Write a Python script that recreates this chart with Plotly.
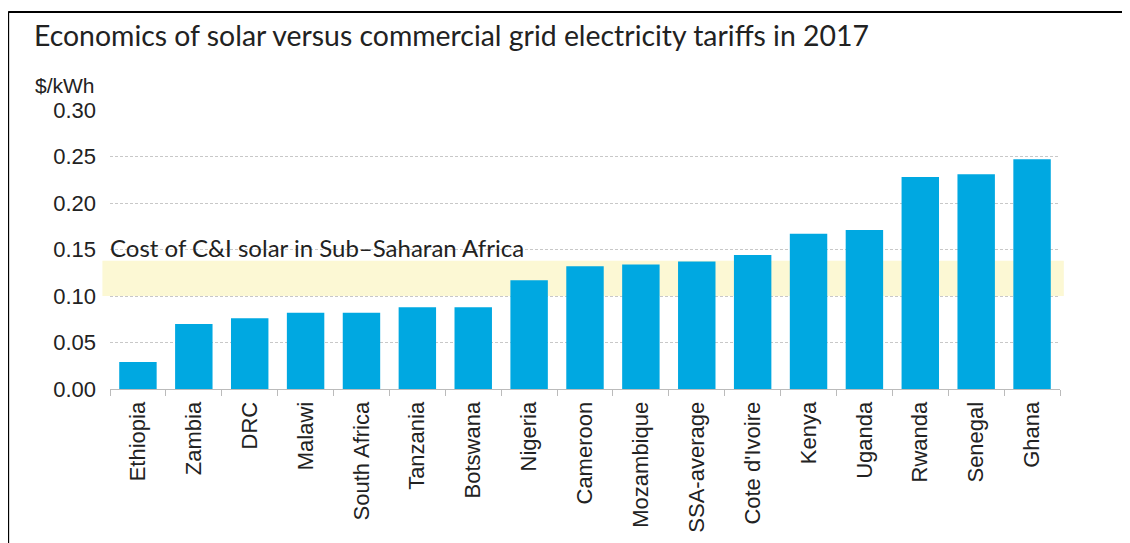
import plotly.graph_objects as go

# Commercial grid tariffs by country, 2017 ($/kWh)
countries = ["Ethiopia", "Zambia", "DRC", "Malawi", "South Africa", "Tanzania",
             "Botswana", "Nigeria", "Cameroon", "Mozambique", "SSA-average",
             "Cote d'Ivoire", "Kenya", "Uganda", "Rwanda", "Senegal", "Ghana"]
tariffs = [0.029, 0.070, 0.076, 0.082, 0.082, 0.088,
           0.088, 0.117, 0.132, 0.134, 0.137,
           0.144, 0.167, 0.171, 0.228, 0.231, 0.247]

# C&I solar cost range in Sub-Saharan Africa
solar_low = 0.10
solar_high = 0.138

y_ticks = [0.00, 0.05, 0.10, 0.15, 0.20, 0.25, 0.30]

bar_color = "#00A8E1"
axis_font = "Liberation Sans, Arial, sans-serif"
title_font = "Lato, Noto Sans, sans-serif"

fig = go.Figure()

fig.add_trace(go.Bar(
    x=countries,
    y=tariffs,
    marker=dict(color=bar_color, line=dict(width=0)),
    width=0.67,
    hoverinfo="x+y",
))

# yellow band for the solar cost range
fig.add_shape(
    type="rect", xref="paper", yref="y",
    x0=-0.008, x1=1.004, y0=solar_low, y1=solar_high,
    fillcolor="#FCF8D4", line=dict(width=0), layer="below",
)

fig.add_annotation(
    text="Cost of C&I solar in Sub\u2013Saharan Africa",
    xref="paper", yref="y", x=-0.002, y=0.1525,
    xanchor="left", yanchor="middle", showarrow=False,
    font=dict(family=title_font, size=24, color="#222222"),
)

# chart title and unit label
fig.add_annotation(
    text="Economics of solar versus commercial grid electricity tariffs in 2017",
    xref="paper", yref="paper", x=-0.082, y=1.27,
    xanchor="left", yanchor="middle", showarrow=False,
    font=dict(family=title_font, size=28.4, color="#222222"),
)
fig.add_annotation(
    text="$/kWh",
    xref="paper", yref="paper", x=-0.0138, y=1.088,
    xanchor="right", yanchor="middle", showarrow=False,
    font=dict(family=axis_font, size=21, color="#222222"),
)

# frame lines on top and left
fig.add_shape(type="line", xref="paper", yref="paper",
              x0=-0.1072, x1=1.1, y0=1.351, y1=1.351,
              line=dict(color="black", width=2))
fig.add_shape(type="line", xref="paper", yref="paper",
              x0=-0.1072, x1=-0.1072, y0=1.351, y1=-0.6,
              line=dict(color="black", width=2))

fig.update_layout(
    width=1122, height=535,
    margin=dict(l=102, r=70, t=102, b=154),
    paper_bgcolor="white", plot_bgcolor="white",
    showlegend=False,
    bargap=0.33,
    xaxis=dict(
        type="category",
        tickangle=-90,
        tickson="boundaries",
        ticks="outside", ticklen=6, tickcolor="#BBBBBB",
        showline=True, linecolor="#BBBBBB", linewidth=1,
        showgrid=False,
        automargin=False,
        ticklabelstandoff=3,
        tickfont=dict(family=axis_font, size=22, color="#222222"),
    ),
    yaxis=dict(
        range=[0, 0.30],
        tickvals=y_ticks,
        tickformat=".2f",
        showgrid=True, gridcolor="#C8C8C8", gridwidth=1, griddash="3px,2px",
        zeroline=False,
        showline=False,
        automargin=False,
        ticklabelstandoff=13,
        tickfont=dict(family=axis_font, size=22, color="#222222"),
    ),
)

fig.write_html("out.html")
